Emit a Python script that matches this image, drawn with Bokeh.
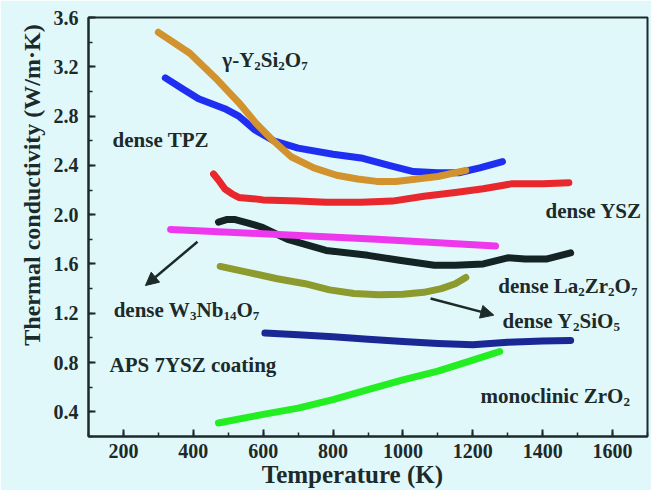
from bokeh.plotting import figure
from bokeh.models import SingleIntervalTicker, Range1d, Arrow, NormalHead, PrintfTickFormatter
from bokeh.embed import file_html
from bokeh.resources import INLINE
from bokeh.core.properties import value

# ---------------- data ----------------
tpz_T = [320, 370, 415, 490, 530, 575, 630, 700, 800, 880, 960, 1030, 1100, 1160, 1220, 1285]
tpz_k = [3.11, 3.02, 2.94, 2.86, 2.80, 2.69, 2.60, 2.54, 2.49, 2.46, 2.40, 2.35, 2.34, 2.34, 2.38, 2.43]

yss_T = [300, 390, 470, 530, 580, 625, 680, 745, 810, 870, 925, 980, 1040, 1100, 1180]
yss_k = [3.48, 3.31, 3.09, 2.91, 2.74, 2.61, 2.47, 2.38, 2.32, 2.29, 2.27, 2.27, 2.29, 2.31, 2.36]

ysz_T = [458, 475, 490, 510, 530, 570, 600, 700, 780, 880, 970, 1060, 1150, 1230, 1310, 1400, 1475]
ysz_k = [2.33, 2.27, 2.21, 2.17, 2.14, 2.13, 2.12, 2.11, 2.10, 2.10, 2.11, 2.15, 2.18, 2.21, 2.25, 2.25, 2.26]

lzo_T = [472, 495, 520, 560, 595, 670, 780, 900, 990, 1090, 1150, 1230, 1300, 1350, 1410, 1480]
lzo_k = [1.94, 1.96, 1.96, 1.93, 1.90, 1.80, 1.71, 1.67, 1.63, 1.59, 1.59, 1.60, 1.65, 1.64, 1.64, 1.69]

wno_T = [335, 600, 925, 1265]
wno_k = [1.88, 1.845, 1.80, 1.745]

yso_T = [477, 560, 640, 720, 790, 860, 930, 1000, 1060, 1110, 1150, 1180]
yso_k = [1.58, 1.53, 1.48, 1.44, 1.39, 1.36, 1.35, 1.355, 1.37, 1.40, 1.44, 1.49]

aps_T = [605, 700, 800, 900, 1000, 1100, 1200, 1300, 1400, 1480]
aps_k = [1.04, 1.025, 1.01, 0.99, 0.97, 0.955, 0.945, 0.965, 0.975, 0.98]

mzr_T = [472, 600, 700, 800, 900, 1000, 1100, 1200, 1277]
mzr_k = [0.31, 0.38, 0.43, 0.50, 0.58, 0.66, 0.73, 0.82, 0.89]

x_ticks_interval = 200
y_ticks_interval = 0.4
x_title = "Temperature (K)"
y_title = "Thermal conductivity (W/m·K)"

# ---------------- styling ----------------
BG = "#E1F8FB"
DARK = "#1C2A2A"
FONT = "Liberation Serif"
NB = "\u00a0"

p = figure(width=651, height=490, output_backend="svg", toolbar_location=None,
           x_range=Range1d(100, 1700), y_range=Range1d(0.2, 3.6),
           min_border_left=88, min_border_right=4, min_border_top=17, min_border_bottom=51)
p.background_fill_color = BG
p.border_fill_color = BG
p.outline_line_color = DARK
p.outline_line_width = 2
p.grid.visible = False

p.xaxis.ticker = SingleIntervalTicker(interval=x_ticks_interval, num_minor_ticks=2)
p.yaxis.ticker = SingleIntervalTicker(interval=y_ticks_interval, num_minor_ticks=2)
p.yaxis.formatter = PrintfTickFormatter(format="%.1f")
for ax in (p.xaxis[0], p.yaxis[0]):
    ax.axis_line_color = DARK
    ax.axis_line_width = 2
    ax.major_tick_line_color = DARK
    ax.minor_tick_line_color = DARK
    ax.major_tick_line_width = 2
    ax.minor_tick_line_width = 1.5
    ax.major_tick_in = 7
    ax.major_tick_out = 0
    ax.minor_tick_in = 4
    ax.minor_tick_out = 0
    ax.major_label_text_font = FONT
    ax.major_label_text_font_style = "bold"
    ax.major_label_text_font_size = "20px"
    ax.major_label_text_color = DARK
    ax.axis_label_text_font = FONT
    ax.axis_label_text_font_style = "bold"
    ax.axis_label_text_color = DARK
p.xaxis[0].major_label_standoff = 7
p.yaxis[0].major_label_standoff = 10

# non-breaking padding shifts the centred titles to where the reference has them
p.yaxis[0].axis_label = NB * 14 + y_title
p.yaxis[0].axis_label_text_font_size = "24px"
p.yaxis[0].axis_label_standoff = 6
p.xaxis[0].axis_label = x_title + NB * 5
p.xaxis[0].axis_label_text_font_size = "25px"
p.xaxis[0].axis_label_standoff = 0

lw = 7
p.line(tpz_T, tpz_k, line_width=lw, color="#1F2FF2", line_cap="round", line_join="round")
p.line(yss_T, yss_k, line_width=lw, color="#D2922E", line_cap="round", line_join="round")
p.line(ysz_T, ysz_k, line_width=lw, color="#E8282C", line_cap="round", line_join="round")
p.line(lzo_T, lzo_k, line_width=lw, color="#142424", line_cap="round", line_join="round")
p.line(wno_T, wno_k, line_width=lw, color="#EE38EE", line_cap="round", line_join="round")
p.line(yso_T, yso_k, line_width=lw, color="#8C9A2E", line_cap="round", line_join="round")
p.line(aps_T, aps_k, line_width=lw, color="#1A2896", line_cap="round", line_join="round")
p.line(mzr_T, mzr_k, line_width=lw, color="#22EE22", line_cap="round", line_join="round")

# arrows
for (xs, ys, xe, ye) in [(412, 1.78, 263, 1.425), (1079, 1.32, 1260, 1.185)]:
    p.add_layout(Arrow(end=NormalHead(size=13, fill_color=DARK, line_color=DARK, line_width=1),
                       x_start=xs, y_start=ys, x_end=xe, y_end=ye,
                       line_color=DARK, line_width=2.5))

# text with subscripts (Times-Bold metrics, 1/1000 em)
W = {' ': 250, '-': 333, 'Y': 722, 'S': 556, 'i': 278, 'O': 778, 'd': 556, 'e': 444, 'n': 556,
     's': 389, 'T': 667, 'P': 611, 'Z': 667, 'L': 667, 'a': 500, 'r': 444, 'W': 1000, 'N': 722,
     'b': 556, 'm': 833, 'o': 500, 'c': 444, 'l': 278, 'A': 722, 'g': 500, 't': 333, 'γ': 470}
FS = 21
SFS = 13

def rich_label(x, y, parts):
    off = 0.0
    for txt, sub in parts:
        size = SFS if sub else FS
        p.text(x=[x], y=[y], text=[txt], x_offset=off, y_offset=6 if sub else 0,
               text_font=value(FONT), text_font_style="bold", text_font_size=f"{size}px",
               text_color=DARK, text_align="left", text_baseline="alphabetic")
        off += sum(W.get(c, 500) for c in txt) * size / 1000.0

rich_label(483, 3.254, [("γ-Y", 0), ("2", 1), ("Si", 0), ("2", 1), ("O", 0), ("7", 1)])
rich_label(169, 2.609, [("dense TPZ", 0)])
rich_label(1408, 2.029, [("dense YSZ", 0)])
rich_label(1273, 1.425, [("dense La", 0), ("2", 1), ("Zr", 0), ("2", 1), ("O", 0), ("7", 1)])
rich_label(172, 1.223, [("dense W", 0), ("3", 1), ("Nb", 0), ("14", 1), ("O", 0), ("7", 1)])
rich_label(1285, 1.135, [("dense Y", 0), ("2", 1), ("SiO", 0), ("5", 1)])
rich_label(160, 0.78, [("APS 7YSZ coating", 0)])
rich_label(1222, 0.53, [("monoclinic ZrO", 0), ("2", 1)])

open("out.html", "w").write(file_html(p, INLINE))
